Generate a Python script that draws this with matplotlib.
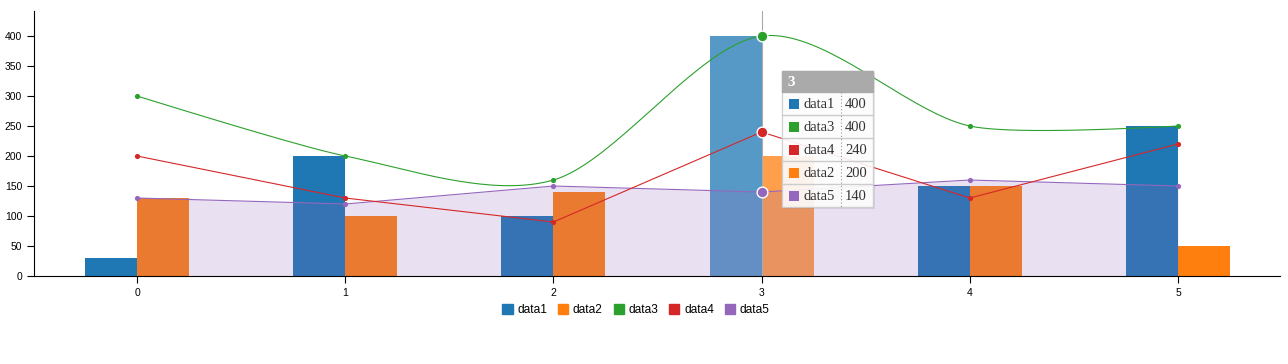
import numpy as np
import matplotlib.pyplot as plt
from matplotlib.patches import Rectangle

# chart data
x_vals = [0, 1, 2, 3, 4, 5]
data1 = [30, 200, 100, 400, 150, 250]
data2 = [130, 100, 140, 200, 150, 50]
data3 = [300, 200, 160, 400, 250, 250]
data4 = [200, 130, 90, 240, 130, 220]
data5 = [130, 120, 150, 140, 160, 150]
hover_idx = 3

colors = {'data1': '#1f77b4', 'data2': '#ff7f0e', 'data3': '#2ca02c',
          'data4': '#d62728', 'data5': '#9467bd'}


def cardinal(xs, ys, tension=0.7, n=40):
    # d3 v3 style cardinal spline (hermite with scaled tangents)
    p = np.column_stack([xs, ys]).astype(float)
    a = (1 - tension) / 2
    t = np.zeros_like(p)
    for i in range(1, len(p) - 1):
        t[i] = a * (p[i + 1] - p[i - 1])
    s = np.linspace(0, 1, n)[:, None]
    out = []
    for i in range(len(p) - 1):
        p0, p3 = p[i], p[i + 1]
        if i == 0:
            c = p3 - t[i + 1] * 2 / 3
            seg = (1 - s) ** 2 * p0 + 2 * (1 - s) * s * c + s ** 2 * p3
        elif i == len(p) - 2:
            c = p0 + t[i] * 2 / 3
            seg = (1 - s) ** 2 * p0 + 2 * (1 - s) * s * c + s ** 2 * p3
        else:
            c1, c2 = p0 + t[i], p3 - t[i + 1]
            seg = ((1 - s) ** 3 * p0 + 3 * (1 - s) ** 2 * s * c1
                   + 3 * (1 - s) * s ** 2 * c2 + s ** 3 * p3)
        out.append(seg)
    out = np.vstack(out)
    return out[:, 0], out[:, 1]


plt.rcParams['font.family'] = ['Liberation Sans', 'DejaVu Sans']

fig = plt.figure(figsize=(12.88, 3.64), dpi=100)
ax = fig.add_axes([34 / 1288, 88 / 364, 1246 / 1288, 265 / 364])

xs = np.array(x_vals)
w = 0.25
alpha1 = [0.75 if i == hover_idx else 1 for i in range(len(xs))]
for i in range(len(xs)):
    ax.bar(xs[i] - w / 2, data1[i], w, color=colors['data1'], alpha=alpha1[i], zorder=1)
    ax.bar(xs[i] + w / 2, data2[i], w, color=colors['data2'], alpha=alpha1[i], zorder=1)

# area (data5)
ax.fill_between(xs, 0, data5, color=colors['data5'], alpha=0.2, lw=0, zorder=2)
ax.plot(xs, data5, color=colors['data5'], lw=0.8, zorder=3)

# spline (data3)
sx, sy = cardinal(xs, data3)
ax.plot(sx, sy, color=colors['data3'], lw=0.8, zorder=3)

# line (data4)
ax.plot(xs, data4, color=colors['data4'], lw=0.8, zorder=3)

for name, d in [('data3', data3), ('data4', data4), ('data5', data5)]:
    small = [i for i in range(len(xs)) if i != hover_idx]
    ax.scatter(xs[small], np.array(d)[small], s=14, color=colors[name], lw=0, zorder=4)
    ax.scatter([xs[hover_idx]], [d[hover_idx]], s=60, color=colors[name],
               edgecolor='white', lw=1, zorder=5)

# focus line
ax.axvline(xs[hover_idx], color='#aaaaaa', lw=0.8, zorder=2.5)

ax.set_xlim(-0.495, 5.49)
ax.set_ylim(0, 441.7)
ax.set_xticks(x_vals)
ax.set_yticks(range(0, 401, 50))
ax.tick_params(labelsize=7.5, length=5, width=0.8, colors='black')
for s in ['left', 'bottom']:
    ax.spines[s].set_linewidth(0.8)
for s in ['top', 'right']:
    ax.spines[s].set_visible(False)

# legend
handles = [Rectangle((0, 0), 1, 1, color=colors[k]) for k in colors]
fig.legend(handles, list(colors), loc='center', bbox_to_anchor=(636 / 1288, 1 - 310 / 364),
           ncol=5, frameon=False, fontsize=8.6, handlelength=0.85, handleheight=0.85,
           handletextpad=0.4, columnspacing=0.9)

# tooltip drawn in pixel coordinates
ov = fig.add_axes([0, 0, 1, 1], zorder=10)
ov.set_xlim(0, 1288)
ov.set_ylim(364, 0)
ov.axis('off')
tip_rows = [('data1', data1), ('data3', data3), ('data4', data4), ('data2', data2), ('data5', data5)]
tx0, tx1, ty0 = 782, 873, 71
hh, rh = 21, 23
ov.add_patch(Rectangle((tx0 + 2, ty0 + 2), tx1 - tx0, hh + rh * 5, color='#000000', alpha=0.08, lw=0))
ov.add_patch(Rectangle((tx0, ty0), tx1 - tx0, hh + rh * 5, facecolor='white', alpha=0.9,
                       edgecolor='#cccccc', lw=1))
ov.add_patch(Rectangle((tx0, ty0), tx1 - tx0, hh, facecolor='#aaaaaa', edgecolor='#aaaaaa', lw=1))
ov.text(tx0 + 5, ty0 + hh / 2 + 1, str(x_vals[hover_idx]), color='white', fontsize=11,
        fontweight='bold', family='Liberation Serif', va='center', ha='left')
for r, (name, d) in enumerate(tip_rows):
    y0 = ty0 + hh + r * rh
    if r > 0:
        ov.plot([tx0, tx1], [y0, y0], color='#cccccc', lw=1)
    ov.add_patch(Rectangle((tx0 + 7, y0 + rh / 2 - 5), 10, 10, color=colors[name], lw=0))
    ov.text(tx0 + 22, y0 + rh / 2 + 1, name, fontsize=10.5, family='Liberation Serif',
            va='center', ha='left', color='#333333')
    ov.text(tx1 - 6, y0 + rh / 2 + 1, str(d[hover_idx]), fontsize=10.5, family='Liberation Serif',
            va='center', ha='right', color='#333333')
ov.plot([841, 841], [ty0 + hh, ty0 + hh + rh * 5], color='#999999', lw=0.8, ls=(0, (1, 2)))

fig.savefig('out.png', dpi=100)
